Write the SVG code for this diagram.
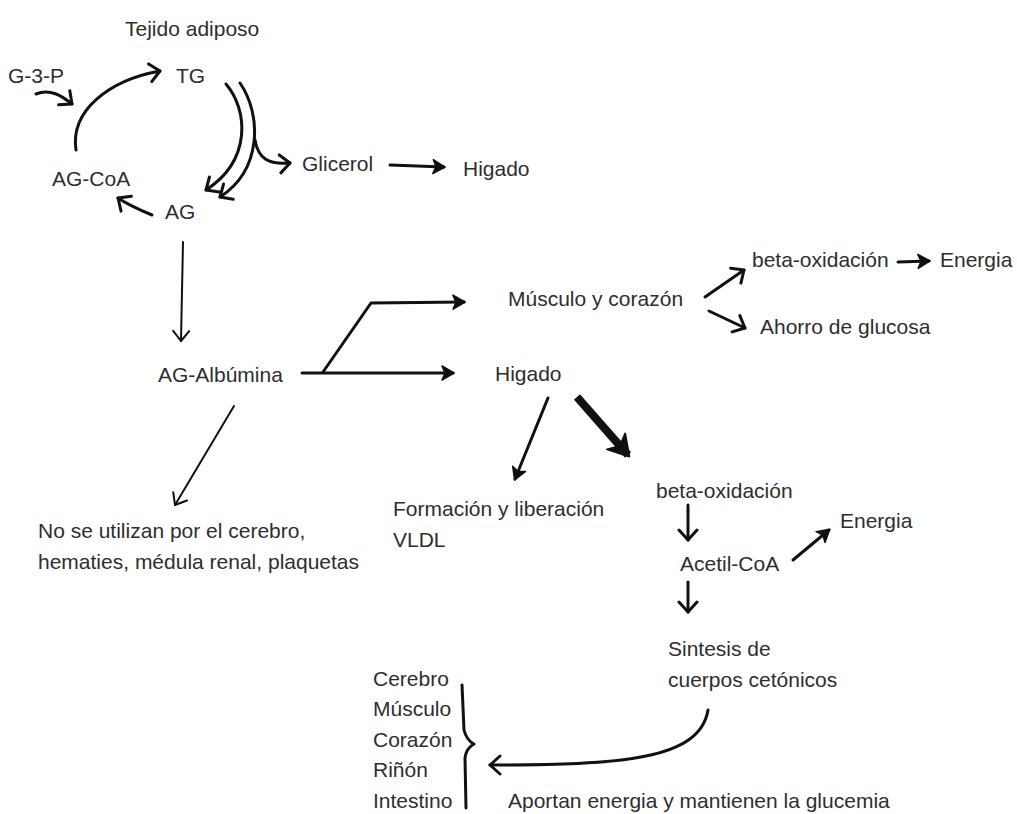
<svg xmlns="http://www.w3.org/2000/svg" width="1017" height="814" viewBox="0 0 1017 814">
<defs>
<style>
text{font-family:"Liberation Sans",Arial,sans-serif;font-size:21px;fill:#2e2e2e}
.c{fill:none;stroke:#111;stroke-linecap:round;stroke-linejoin:round}
.t3{stroke-width:3}
.t2{stroke-width:2}
</style>
<marker id="v" markerUnits="userSpaceOnUse" markerWidth="24" markerHeight="24" refX="12" refY="12" viewBox="0 0 24 24" orient="auto">
<path d="M2,3 L12,12 L2,21" fill="none" stroke="#111" stroke-width="3" stroke-linecap="round" stroke-linejoin="round"/>
</marker>
<marker id="vs" markerUnits="userSpaceOnUse" markerWidth="24" markerHeight="24" refX="12" refY="12" viewBox="0 0 24 24" orient="auto">
<path d="M2,4 L12,12 L2,20" fill="none" stroke="#111" stroke-width="2" stroke-linecap="round" stroke-linejoin="round"/>
</marker>
<marker id="f" markerUnits="userSpaceOnUse" markerWidth="24" markerHeight="24" refX="12" refY="12" viewBox="0 0 24 24" orient="auto">
<path d="M1,5 L13,12 L1,19 L4,12 Z" fill="#111" stroke="#111" stroke-width="1.5" stroke-linejoin="round"/>
</marker>
<marker id="big" markerUnits="userSpaceOnUse" markerWidth="40" markerHeight="40" refX="20" refY="20" viewBox="0 0 40 40" orient="auto">
<path d="M2,8 L22,20 L2,32 L8,20 Z" fill="#111" stroke="#111" stroke-width="2" stroke-linejoin="round"/>
</marker>
</defs>

<g id="connectors">
<path class="c t3" d="M36,94 C50,88 62,96 72,104" marker-end="url(#v)"/>
<path class="c t3" d="M76,150 C70,110 110,80 160,71" marker-end="url(#v)"/>
<path class="c t3" d="M226,84 C248,110 252,160 206,190" marker-end="url(#v)"/>
<path class="c t3" d="M240,83 C262,115 262,170 220,197" marker-end="url(#v)"/>
<path class="c t3" d="M255,140 C258,158 268,165 290,163" marker-end="url(#v)"/>
<path class="c t3" d="M390,165 L444,167" marker-end="url(#f)"/>
<path class="c t3" d="M152,215 C140,210 128,205 118,198" marker-end="url(#v)"/>
<path class="c t2" d="M183,242 L181,341" marker-end="url(#vs)"/>
<path class="c t3" d="M302,373 L453,373" marker-end="url(#f)"/>
<path class="c t3" d="M323,372 L371,303 L464,302" marker-end="url(#f)"/>
<path class="c t3" d="M705,297 L744,270" marker-end="url(#v)"/>
<path class="c t3" d="M709,311 L745,328" marker-end="url(#v)"/>
<path class="c t3" d="M898,262 L929,261" marker-end="url(#f)"/>
<path class="c t2" d="M234,406 L175,505" marker-end="url(#vs)"/>
<path class="c t3" d="M548,398 L515,479" marker-end="url(#f)"/>
<path class="c" style="stroke-width:8;stroke-linecap:butt" d="M577,397 L628,455" marker-end="url(#big)"/>
<path class="c t3" d="M688,505 L688,540" marker-end="url(#v)"/>
<path class="c t3" d="M793,560 L829,530" marker-end="url(#f)"/>
<path class="c t3" d="M688,582 L688,612" marker-end="url(#v)"/>
<path class="c t3" d="M708,710 C700,760 620,765 490,765" marker-end="url(#v)"/>
<path class="c t3" d="M462,685 L464,730 C466,738 470,742 474,744 C470,746 466,750 465,758 L466,808"/>
</g>

<g id="n-tejido"><text x="125" y="36">Tejido adiposo</text></g>
<g id="n-g3p"><text x="8" y="83">G-3-P</text></g>
<g id="n-tg"><text x="176" y="83">TG</text></g>
<g id="n-glicerol"><text x="302" y="171">Glicerol</text></g>
<g id="n-higado1"><text x="463" y="176">Higado</text></g>
<g id="n-agcoa"><text x="52" y="186">AG-CoA</text></g>
<g id="n-ag"><text x="165" y="219">AG</text></g>
<g id="n-agalb"><text x="158" y="382">AG-Albúmina</text></g>
<g id="n-musculo"><text x="508" y="306">Músculo y corazón</text></g>
<g id="n-betaox1"><text x="752" y="267">beta-oxidación</text></g>
<g id="n-energia1"><text x="940" y="267">Energia</text></g>
<g id="n-ahorro"><text x="760" y="334">Ahorro de glucosa</text></g>
<g id="n-higado2"><text x="495" y="381">Higado</text></g>
<g id="n-vldl"><text x="393" y="516">Formación y liberación</text><text x="393" y="547">VLDL</text></g>
<g id="n-betaox2"><text x="656" y="498">beta-oxidación</text></g>
<g id="n-acetil"><text x="680" y="571">Acetil-CoA</text></g>
<g id="n-energia2"><text x="840" y="528">Energia</text></g>
<g id="n-noutil"><text x="38" y="538">No se utilizan por el cerebro,</text><text x="38" y="569">hematies, médula renal, plaquetas</text></g>
<g id="n-sintesis"><text x="668" y="656">Sintesis de</text><text x="668" y="687">cuerpos cetónicos</text></g>
<g id="n-organos"><text x="373" y="686">Cerebro</text><text x="373" y="716">Músculo</text><text x="373" y="747">Corazón</text><text x="373" y="777">Riñón</text><text x="373" y="808">Intestino</text></g>
<g id="n-aportan"><text x="508" y="808">Aportan energia y mantienen la glucemia</text></g>
</svg>
